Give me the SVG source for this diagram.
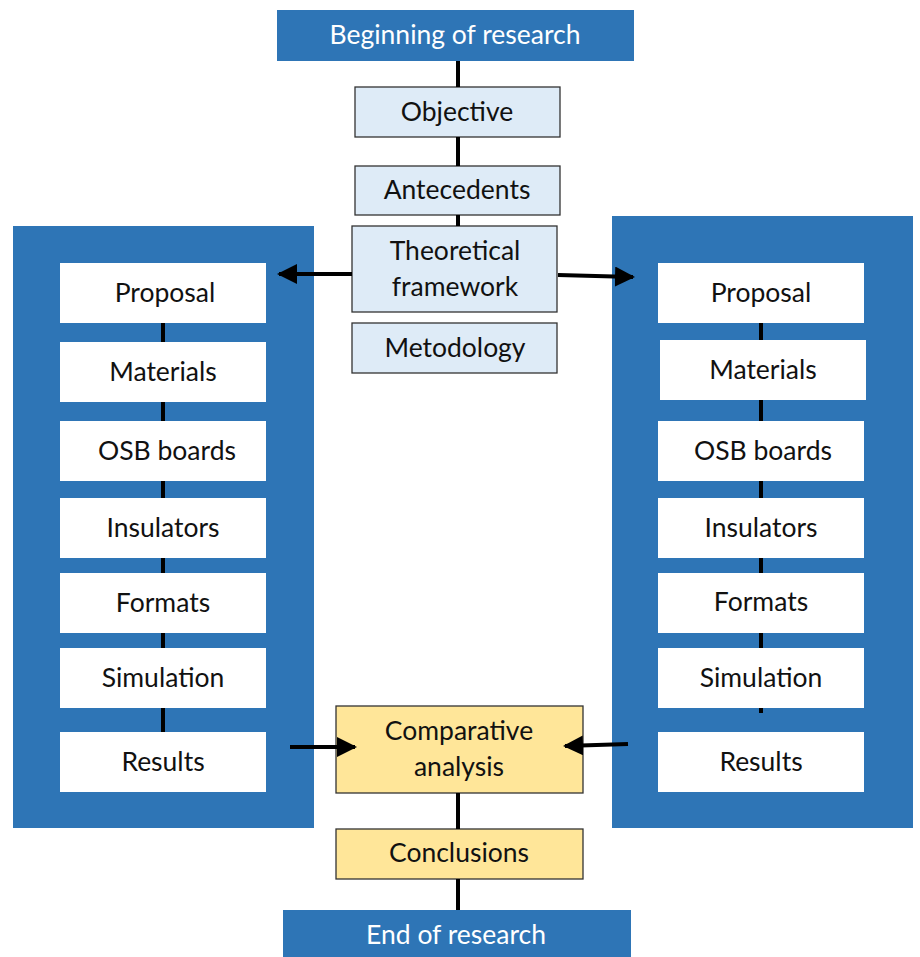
<svg xmlns="http://www.w3.org/2000/svg" width="920" height="957" viewBox="0 0 920 957">
<style>
.blue{fill:#2E75B6}
.lb{fill:#DEEBF7;stroke:#333;stroke-width:1.3}
.yl{fill:#FFE699;stroke:#333;stroke-width:1.3}
.wh{fill:#fff}
text{font-family:Lato,"Open Sans",sans-serif;font-size:26.5px;text-anchor:middle;fill:#111}
.wt{fill:#fff}
.ln{stroke:#000;stroke-width:4;fill:none}
</style>
<defs>
<marker id="ah" viewBox="0 0 10 10" refX="9" refY="5" markerWidth="5" markerHeight="5" markerUnits="strokeWidth" orient="auto">
<path d="M0,0 L10,5 L0,10 z" fill="#000"/>
</marker>
</defs>
<g id="panels">
<rect id="leftPanel" class="blue" x="13" y="226" width="301" height="602"/>
<rect id="rightPanel" class="blue" x="612" y="216" width="301" height="612"/>
</g>
<g id="begin"><rect class="blue" x="277" y="10" width="357" height="51"/><text class="wt" x="455" y="44">Beginning of research</text></g>
<g id="objective"><rect class="lb" x="355" y="87" width="205" height="50"/><text x="457" y="121">Objective</text></g>
<g id="antecedents"><rect class="lb" x="355" y="166" width="205" height="49"/><text x="457" y="199">Antecedents</text></g>
<g id="theoretical"><rect class="lb" x="352" y="226" width="205" height="86"/><text x="455" y="260">Theoretical</text><text x="455" y="296">framework</text></g>
<g id="metodology"><rect class="lb" x="352" y="323" width="205" height="50"/><text x="455" y="357">Metodology</text></g>
<g id="l-proposal"><rect class="wh" x="60" y="263" width="206" height="60"/><text x="165" y="302">Proposal</text></g>
<g id="l-materials"><rect class="wh" x="60" y="342" width="206" height="60"/><text x="163" y="381">Materials</text></g>
<g id="l-osb"><rect class="wh" x="60" y="421" width="206" height="60"/><text x="167" y="460">OSB boards</text></g>
<g id="l-insulators"><rect class="wh" x="60" y="498" width="206" height="60"/><text x="163" y="537">Insulators</text></g>
<g id="l-formats"><rect class="wh" x="60" y="573" width="206" height="60"/><text x="163" y="612">Formats</text></g>
<g id="l-simulation"><rect class="wh" x="60" y="648" width="206" height="60"/><text x="163" y="687">Simulation</text></g>
<g id="l-results"><rect class="wh" x="60" y="732" width="206" height="60"/><text x="163" y="771">Results</text></g>
<g id="r-proposal"><rect class="wh" x="658" y="263" width="206" height="60"/><text x="761" y="302">Proposal</text></g>
<g id="r-materials"><rect class="wh" x="660" y="340" width="206" height="60"/><text x="763" y="379">Materials</text></g>
<g id="r-osb"><rect class="wh" x="658" y="421" width="206" height="60"/><text x="763" y="460">OSB boards</text></g>
<g id="r-insulators"><rect class="wh" x="658" y="498" width="206" height="60"/><text x="761" y="537">Insulators</text></g>
<g id="r-formats"><rect class="wh" x="658" y="573" width="206" height="60"/><text x="761" y="611">Formats</text></g>
<g id="r-simulation"><rect class="wh" x="658" y="648" width="206" height="60"/><text x="761" y="687">Simulation</text></g>
<g id="r-results"><rect class="wh" x="658" y="732" width="206" height="60"/><text x="761" y="771">Results</text></g>
<g id="comparative"><rect class="yl" x="336" y="706" width="247" height="87"/><text x="459" y="740">Comparative</text><text x="459" y="776">analysis</text></g>
<g id="conclusions"><rect class="yl" x="336" y="829" width="247" height="50"/><text x="459" y="862">Conclusions</text></g>
<g id="end"><rect class="blue" x="283" y="910" width="348" height="47"/><text class="wt" x="456" y="944">End of research</text></g>
<g id="connectors">
<line class="ln" x1="458" y1="61" x2="458" y2="87"/>
<line class="ln" x1="458" y1="137" x2="458" y2="166"/>
<line class="ln" x1="458" y1="215" x2="458" y2="226"/>
<line class="ln" x1="458" y1="793" x2="458" y2="829"/>
<line class="ln" x1="458" y1="879" x2="458" y2="910"/>
<line class="ln" x1="163" y1="323" x2="163" y2="342"/>
<line class="ln" x1="163" y1="402" x2="163" y2="421"/>
<line class="ln" x1="163" y1="481" x2="163" y2="498"/>
<line class="ln" x1="163" y1="558" x2="163" y2="573"/>
<line class="ln" x1="163" y1="633" x2="163" y2="648"/>
<line class="ln" x1="163" y1="708" x2="163" y2="732"/>
<line class="ln" x1="761" y1="323" x2="761" y2="340"/>
<line class="ln" x1="761" y1="400" x2="761" y2="421"/>
<line class="ln" x1="761" y1="481" x2="761" y2="498"/>
<line class="ln" x1="761" y1="558" x2="761" y2="573"/>
<line class="ln" x1="761" y1="633" x2="761" y2="648"/>
<line class="ln" x1="761" y1="708" x2="761" y2="713"/>
<line class="ln" x1="352" y1="274" x2="279" y2="274" marker-end="url(#ah)"/>
<line class="ln" x1="558" y1="275" x2="633" y2="277" marker-end="url(#ah)"/>
<line class="ln" x1="290" y1="747" x2="355" y2="747" marker-end="url(#ah)"/>
<line class="ln" x1="628" y1="744" x2="565" y2="746" marker-end="url(#ah)"/>
</g>
</svg>
